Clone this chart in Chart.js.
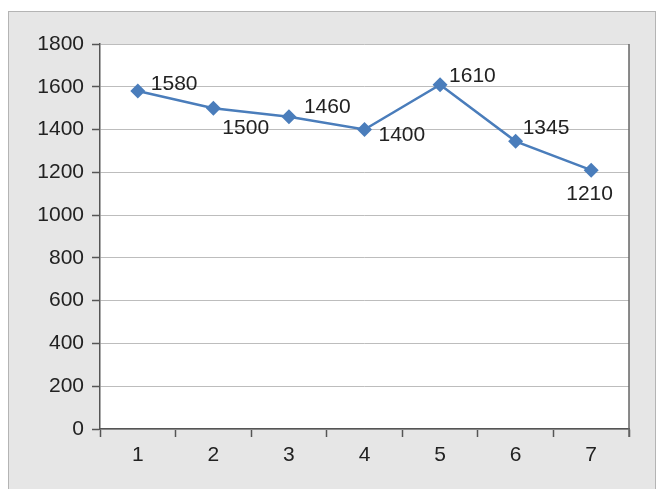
<!DOCTYPE html>
<html>
<head>
<meta charset="utf-8">
<script src="https://cdn.jsdelivr.net/npm/chart.js@4/dist/chart.umd.min.js"></script>
<style>
  html, body { margin: 0; padding: 0; background: #fff; }
  body { width: 657px; height: 489px; position: relative; overflow: hidden; }
  #frame {
    position: absolute; left: 8px; top: 11px; width: 646px; height: 490px;
    background: #e6e6e6; border: 1px solid #b4b4b4; border-bottom: none;
  }
  #wrap { position: absolute; left: 0; top: 0; width: 657px; height: 489px; }
</style>
</head>
<body>
<div id="frame"></div>
<div id="wrap"><canvas id="main-chart"></canvas></div>
<script>
const categories = ['1', '2', '3', '4', '5', '6', '7'];
const values = [1580, 1500, 1460, 1400, 1610, 1345, 1210];
const yTicks = [0, 200, 400, 600, 800, 1000, 1200, 1400, 1600, 1800];

// where each value label sits relative to its point (dx, dy in px)
const labelOffsets = [[13, -7], [9, 20], [15, -10], [14, 6], [9, -8], [7, -13], [-25, 24]];

const tc = '#222';
const axisCol = '#555';
const font = { family: 'Liberation Sans, Arial, sans-serif', size: 21 };

// white plot area + dark right frame
const plotFrame = {
  id: 'plotFrame',
  beforeDraw(chart) {
    const a = chart.chartArea, ctx = chart.ctx;
    ctx.save();
    ctx.fillStyle = '#fff';
    ctx.fillRect(a.left, a.top, a.right - a.left, a.bottom - a.top);
    ctx.restore();
  },
  afterDraw(chart) {
    const a = chart.chartArea, ctx = chart.ctx;
    ctx.save();
    ctx.strokeStyle = '#666';
    ctx.lineWidth = 1.5;
    ctx.beginPath();
    ctx.moveTo(a.right, a.top);
    ctx.lineTo(a.right, a.bottom + 8);
    ctx.stroke();
    ctx.restore();
  }
};

// value labels next to points
const valueLabels = {
  id: 'valueLabels',
  afterDatasetsDraw(chart) {
    const ctx = chart.ctx;
    const meta = chart.getDatasetMeta(0);
    ctx.save();
    ctx.fillStyle = tc;
    ctx.font = `${font.size}px ${font.family}`;
    ctx.textAlign = 'left';
    ctx.textBaseline = 'middle';
    meta.data.forEach((pt, i) => {
      const [dx, dy] = labelOffsets[i];
      ctx.fillText(String(values[i]), pt.x + dx, pt.y + dy);
    });
    ctx.restore();
  }
};

new Chart(document.getElementById('main-chart'), {
  type: 'line',
  data: {
    labels: categories,
    datasets: [{
      data: values,
      borderColor: '#4a7dbb',
      backgroundColor: '#4a7dbb',
      borderWidth: 2.5,
      pointStyle: 'rectRot',
      pointRadius: 7.5,
      pointHoverRadius: 7.5,
      pointBorderWidth: 0,
      tension: 0
    }]
  },
  options: {
    responsive: true, maintainAspectRatio: false,
    animation: false,
    layout: { padding: { top: 44, right: 28, left: 0, bottom: 0 } },
    plugins: { legend: { display: false }, tooltip: { enabled: false } },
    scales: {
      x: {
        type: 'category',
        offset: true,
        grid: { offset: true, drawOnChartArea: false, drawTicks: true, tickLength: 8, tickColor: axisCol, tickWidth: 1.5 },
        border: { color: axisCol, width: 1.5 },
        ticks: { color: tc, font, padding: 6, maxRotation: 0 },
        afterFit: s => { s.height = 60; s.paddingLeft = 0; s.paddingRight = 0; }
      },
      y: {
        min: 0, max: 1800,
        afterBuildTicks: s => { s.ticks = yTicks.map(v => ({ value: v })); },
        grid: { color: '#bdbdbd', lineWidth: 1, drawTicks: true, tickLength: 8, tickColor: axisCol, tickWidth: 1.5 },
        border: { color: axisCol, width: 1.5 },
        ticks: { color: tc, font, padding: 8, callback: v => String(v) },
        afterFit: s => { s.width = 100; s.paddingTop = 0; s.paddingBottom = 0; }
      }
    }
  },
  plugins: [plotFrame, valueLabels]
});
</script>
</body>
</html>
